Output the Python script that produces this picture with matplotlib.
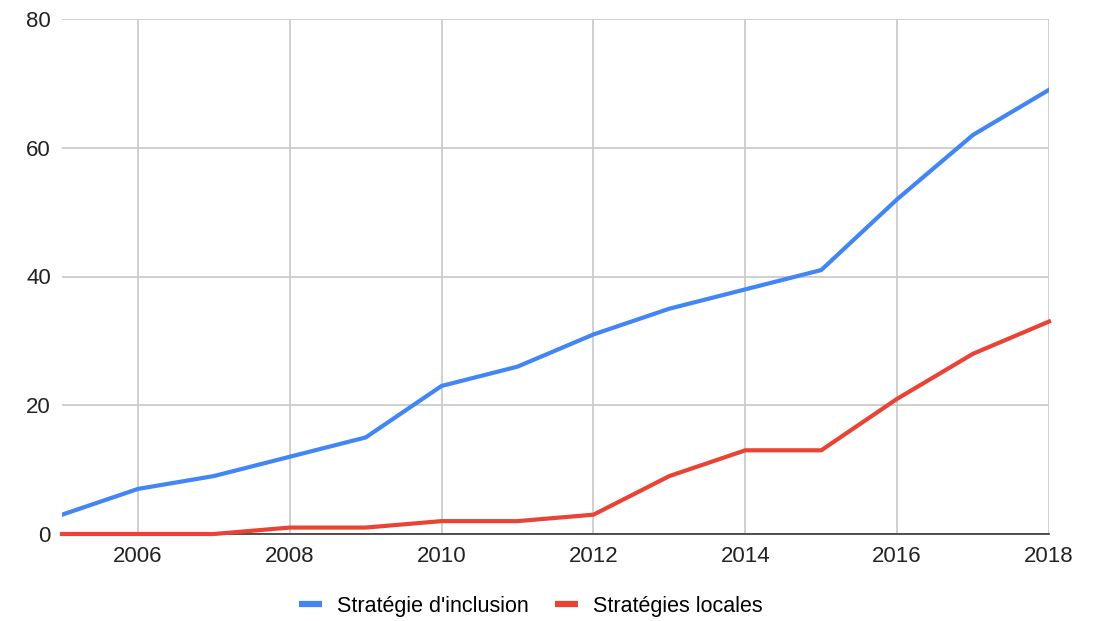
import matplotlib.pyplot as plt

years = list(range(2005, 2019))
inclusion = [3, 7, 9, 12, 15, 23, 26, 31, 35, 38, 41, 52, 62, 69]
locales = [0, 0, 0, 1, 1, 2, 2, 3, 9, 13, 13, 21, 28, 33]

plt.rcParams['font.family'] = ['Liberation Sans', 'DejaVu Sans']

fig = plt.figure(figsize=(11.02, 6.21), dpi=100)
ax = fig.add_axes([62 / 1102, 1 - 534 / 621, (1049 - 62) / 1102, (534 - 19) / 621])

ax.plot(years, inclusion, color='#4285F4', lw=3, label="Stratégie d'inclusion",
        solid_joinstyle='round', zorder=3)
ax.plot(years, locales, color='#EA4335', lw=3, label='Stratégies locales',
        solid_joinstyle='round', zorder=4, clip_on=False)

ax.set_xlim(2005, 2018)
ax.set_ylim(0, 80)
ax.set_xticks(range(2006, 2019, 2))
ax.set_yticks(range(0, 81, 20))
ax.grid(True, color='#cccccc', lw=1.3)
ax.set_axisbelow(True)
for side in ['top', 'right', 'left']:
    ax.spines[side].set_visible(False)
ax.spines['bottom'].set_color('#333333')
ax.spines['bottom'].set_linewidth(1.2)
ax.spines['bottom'].set_zorder(3.5)
ax.tick_params(length=0, labelsize=16, colors='#222222')
ax.tick_params(axis='x', pad=9)
ax.tick_params(axis='y', pad=8)

leg = ax.legend(loc='center', bbox_to_anchor=(0.475, -0.14), ncol=2, frameon=False,
                fontsize=15.5, handlelength=1.05, handletextpad=0.7, columnspacing=1.25,
                borderpad=0)
for line in leg.get_lines():
    line.set_linewidth(4.5)
    line.set_solid_capstyle('butt')

fig.savefig('out.png', dpi=100)
